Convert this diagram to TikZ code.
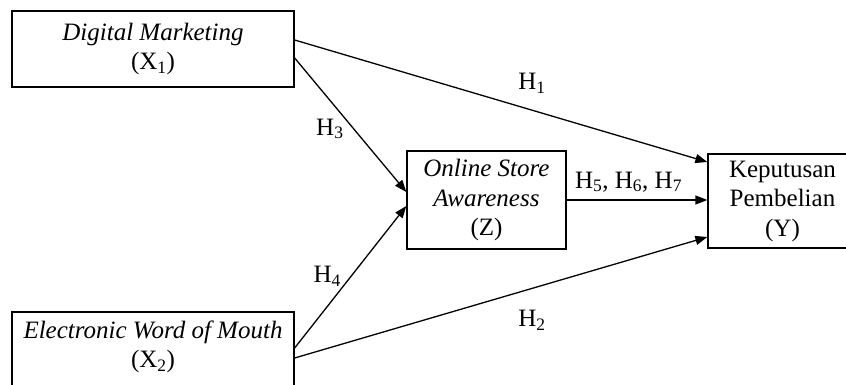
\documentclass[tikz,border=0pt]{standalone}
\usepackage{fontspec}
\setmainfont{Liberation Serif}
\usetikzlibrary{arrows.meta,positioning,calc}
\tikzstyle{block} = [rectangle, draw, line width=1.3pt, align=center, inner sep=2pt, font=\fontsize{25}{29.5}\selectfont]
\tikzstyle{effect} = [-{Triangle[length=12pt,width=9pt]}, line width=1.3pt]
\tikzstyle{hyp} = [font=\fontsize{25}{29.5}\selectfont, inner sep=1pt]

\begin{document}
\begin{tikzpicture}[x=1pt, y=-1pt]
\path[use as bounding box] (0,0) rectangle (846,385);
\clip (0,0) rectangle (846,385);

% Left: independent variables
\node[block, minimum width=282pt, minimum height=76pt] (dm) at (153,49) {\textit{Digital Marketing}\\(X\textsubscript{1})};
\node[block, minimum width=282pt, minimum height=80pt, text depth=16pt] (ewom) at (153,352) {\textit{Electronic Word of Mouth}\\(X\textsubscript{2})};

% Middle: mediator
\node[block, minimum width=159pt, minimum height=98pt] (osa) at (486.5,200) {\textit{Online Store}\\\textit{Awareness}\\(Z)};

% Right: dependent variable (runs past the right edge)
\node[block, minimum width=149pt, minimum height=94pt] (kp) at (782.5,201) {Keputusan\\Pembelian\\(Y)};

% Arrows
\draw[effect] ([yshift=9pt]dm.east) -- node[hyp, pos=.575, yshift=27pt]{H\textsubscript{1}} ([yshift=39pt]kp.west);
\draw[effect] ([yshift=-6pt]ewom.east) -- node[hyp, pos=.575, yshift=-32pt]{H\textsubscript{2}} ([yshift=-36pt]kp.west);
\draw[effect] ([yshift=-9pt]dm.east) -- node[hyp, pos=.53, xshift=-24pt]{H\textsubscript{3}} ([yshift=8pt]osa.west);
\draw[effect] ([yshift=4pt]ewom.east) -- node[hyp, pos=.507, xshift=-24pt]{H\textsubscript{4}} ([yshift=-6pt]osa.west);
\draw[effect] (osa.east) -- node[hyp, pos=.44, yshift=18pt]{H\textsubscript{5}, H\textsubscript{6}, H\textsubscript{7}} (osa.east -| kp.west);

\end{tikzpicture}
\end{document}
